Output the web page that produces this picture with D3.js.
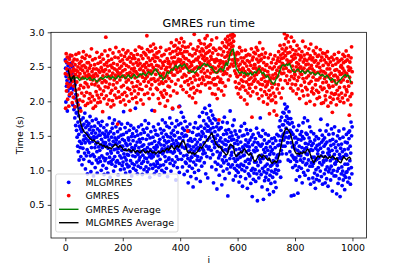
<!DOCTYPE html>
<html><head><meta charset="utf-8">
<script src="https://cdn.jsdelivr.net/npm/d3@7"></script>
<style>html,body{margin:0;padding:0;background:#fff;}svg{display:block;}</style>
</head><body><svg id="c" width="407" height="271"></svg>
<script>
// ---- DATA ----
const xTicks = [0, 200, 400, 600, 800, 1000];
const yTicks = [0.5, 1.0, 1.5, 2.0, 2.5, 3.0];
const seriesNames = ["MLGMRES", "GMRES", "GMRES Average", "MLGMRES Average"];

// MLGMRES run time per iteration i = 0..999
const mlgmres = [
2.60,2.48,1.99,2.36,2.22,2.56,2.30,1.86,2.44,2.15,2.52,2.39,2.26,2.63,2.08,2.47,2.33,2.19,2.55,2.41,
2.28,2.53,2.12,2.40,2.21,2.50,1.95,2.35,2.17,2.45,1.88,2.30,2.05,1.76,2.24,1.92,1.65,2.10,1.83,1.58,
1.84,1.48,1.98,1.35,1.70,1.27,1.79,1.52,1.15,1.64,1.42,1.90,1.33,1.60,1.20,1.73,1.39,1.56,1.08,1.65,
1.58,1.32,1.76,1.44,1.16,1.67,1.50,1.25,1.83,1.40,1.02,1.62,1.46,1.21,1.71,1.54,1.30,0.95,1.65,1.43,
1.51,1.26,1.68,1.13,1.59,1.40,1.78,1.21,1.47,0.98,1.63,1.33,1.54,1.10,1.72,1.42,1.23,1.58,0.92,1.49,
1.46,1.20,1.64,1.33,1.04,1.54,1.38,1.74,1.15,1.48,1.27,0.96,1.60,1.41,1.11,1.69,1.34,1.51,1.18,1.57,
1.29,1.51,1.13,1.65,1.37,1.00,1.45,1.21,1.71,1.33,1.54,1.07,1.41,1.18,1.62,0.94,1.36,1.52,1.14,1.48,
1.40,1.17,1.57,1.03,1.35,1.66,1.24,1.49,0.96,1.32,1.53,1.11,1.44,1.76,1.19,1.38,0.90,1.56,1.28,1.13,
1.25,1.48,1.09,1.61,1.36,1.68,1.16,1.42,0.99,1.53,1.30,1.73,1.20,1.47,1.06,1.39,1.63,1.12,1.44,1.31,
1.38,1.14,1.56,1.26,0.93,1.48,1.32,1.70,1.10,1.41,1.21,1.60,1.01,1.35,1.51,1.18,1.67,1.29,1.07,1.45,
1.35,1.12,1.52,1.85,1.24,1.02,1.43,1.19,1.62,1.30,0.96,1.39,1.15,1.55,1.09,1.36,1.23,1.68,1.05,1.47,
1.22,1.44,1.06,1.58,1.29,0.98,1.38,1.14,1.65,1.27,1.49,0.92,1.33,1.10,1.53,1.21,1.43,1.03,1.61,1.31,
1.32,1.08,1.49,1.20,1.90,1.36,1.00,1.26,1.57,1.12,1.41,0.95,1.51,1.23,1.06,1.63,1.33,1.15,1.45,1.28,
1.19,1.41,1.04,1.53,1.27,1.66,1.10,1.35,0.94,1.46,1.22,1.59,1.13,1.37,1.01,1.55,1.30,1.18,1.72,1.29,
1.28,1.05,1.45,1.17,1.61,0.98,1.33,1.12,1.51,1.25,1.68,1.02,1.38,1.20,0.90,1.47,1.30,1.08,1.56,1.23,
1.18,1.39,1.87,1.27,1.03,1.48,1.20,1.63,1.09,1.33,0.95,1.42,1.24,1.58,1.06,1.30,1.52,0.99,1.36,1.13,
1.34,1.10,1.51,1.21,1.67,1.04,1.40,1.26,0.93,1.45,1.16,1.60,1.07,1.37,1.28,1.54,1.00,1.31,1.73,1.24,
1.26,1.48,1.08,1.58,1.36,0.97,1.43,1.20,1.69,1.31,1.13,1.52,1.03,1.40,1.64,1.27,0.91,1.49,1.34,1.16,
1.42,1.18,1.62,1.33,1.76,1.10,1.48,1.27,0.99,1.54,1.37,1.68,1.15,1.44,1.89,1.25,1.58,1.07,1.39,1.51,
1.27,1.50,1.12,1.63,1.35,0.86,1.43,1.20,1.72,1.32,1.04,1.55,1.39,1.16,1.66,1.29,1.47,0.97,1.93,1.37,
1.47,1.25,1.68,1.38,1.84,1.16,1.53,1.34,1.05,1.61,1.43,1.77,1.21,1.49,0.94,1.58,1.32,1.71,1.12,1.51,
1.33,1.10,1.50,1.22,1.63,0.99,1.37,1.17,0.82,1.43,1.27,1.57,1.06,1.35,1.67,1.14,1.46,0.91,1.30,1.19,
1.19,1.42,1.03,1.55,1.25,0.76,1.34,1.12,1.62,1.28,0.97,1.45,1.22,1.69,1.08,1.37,0.88,1.31,1.51,1.15,
1.41,1.20,1.61,1.33,1.00,1.52,1.29,1.78,1.14,1.45,0.84,1.37,1.64,1.18,1.49,1.06,1.56,1.32,1.84,1.24,
1.53,1.29,1.72,1.40,1.11,1.61,1.90,1.25,1.49,0.95,1.67,1.35,1.82,1.20,1.57,1.44,0.89,1.64,1.31,1.76,
1.57,1.34,1.94,1.47,1.72,1.18,1.60,1.86,1.29,1.54,1.05,1.68,1.42,1.80,1.23,1.62,0.82,1.49,1.75,1.38,
1.33,1.56,1.12,1.46,1.73,1.01,1.40,1.63,0.73,1.27,1.51,1.09,1.68,1.36,1.18,1.59,0.93,1.43,1.22,1.61,
1.25,1.47,1.06,1.62,1.33,0.79,1.41,1.15,1.70,1.29,0.99,1.52,1.11,1.38,1.77,1.20,0.88,1.44,1.30,1.58,
1.37,1.14,1.53,1.02,1.69,1.28,0.63,1.42,1.09,1.59,1.32,0.96,1.48,1.17,1.86,1.35,1.05,1.55,1.22,1.44,
1.26,1.50,1.08,1.65,1.34,0.86,1.45,1.17,1.73,1.03,1.39,1.57,1.13,0.92,1.30,1.52,1.00,1.21,1.43,1.07,
1.16,1.38,0.97,1.48,1.24,0.83,1.31,1.05,1.57,1.19,0.91,1.41,1.09,1.64,1.27,1.01,1.50,0.77,1.34,1.21,
1.32,1.07,1.51,1.22,1.68,0.99,1.37,1.13,0.88,1.44,1.27,1.59,1.04,1.35,0.74,1.53,1.16,1.40,0.95,1.29,
1.10,1.34,0.92,1.44,1.15,1.58,0.81,1.24,1.00,1.48,1.19,0.62,1.37,1.03,1.52,0.87,1.29,0.96,1.41,1.12,
1.27,1.01,1.46,0.84,1.33,1.12,1.61,0.95,1.29,0.56,1.40,1.07,1.54,1.20,0.89,1.37,0.99,1.50,1.16,1.76,
1.12,1.35,0.94,1.49,1.22,0.76,1.38,1.03,1.58,1.17,0.58,1.30,0.98,1.44,0.85,1.26,1.06,1.53,0.90,1.33,
1.20,0.96,1.39,1.09,0.72,1.29,1.01,1.51,0.86,1.16,1.42,0.65,1.23,0.93,1.34,1.06,0.81,1.27,0.99,1.46,
1.08,1.30,0.90,1.39,1.14,0.69,1.24,0.97,1.47,1.11,0.83,1.33,1.01,1.43,0.75,1.18,0.95,1.52,1.07,1.22,
1.12,1.36,1.00,1.50,1.23,1.63,1.37,1.13,1.72,1.43,0.90,1.58,1.29,1.77,1.49,1.24,1.66,1.35,1.84,1.52,
1.66,1.44,1.83,1.54,1.96,1.35,1.72,1.48,1.89,1.61,1.24,1.78,1.55,1.92,1.40,1.69,1.15,1.75,1.47,1.85,
1.49,1.67,1.27,1.58,1.13,1.75,1.40,0.63,1.55,1.22,1.69,1.34,1.04,1.52,1.19,1.63,0.64,1.36,1.16,1.47,
1.31,1.07,1.48,1.18,0.86,1.40,1.13,1.58,1.00,1.29,0.67,1.45,1.22,1.65,1.05,1.35,0.91,1.26,1.52,1.15,
1.21,1.44,1.03,1.56,1.33,0.82,1.49,1.12,1.69,1.27,0.97,1.46,1.17,1.76,1.31,0.93,1.39,1.08,1.54,1.24,
1.33,1.10,1.52,1.23,1.72,1.00,1.38,1.15,0.88,1.47,1.28,1.63,1.06,1.42,0.80,1.30,1.56,1.11,1.36,1.19,
1.06,1.29,0.89,1.39,1.10,1.53,0.83,1.19,0.96,1.44,1.14,0.74,1.32,1.01,1.49,0.87,1.16,1.36,0.93,1.24,
1.29,1.04,1.46,1.18,0.85,1.38,1.11,1.58,0.99,1.32,1.74,1.21,0.91,1.41,1.08,1.51,0.80,1.26,1.44,1.14,
1.12,1.35,0.95,1.47,1.20,0.82,1.38,1.01,1.57,1.15,0.88,1.41,1.05,1.66,1.25,0.77,1.31,0.98,1.52,1.22,
1.27,1.02,1.43,1.14,0.86,1.36,1.06,1.60,0.96,1.29,0.70,1.45,1.17,1.53,1.00,1.38,0.92,1.23,1.63,1.10,
1.09,1.33,0.92,1.42,1.13,0.66,1.28,0.99,1.50,1.17,0.81,1.37,1.03,1.57,0.88,1.23,1.46,0.62,1.19,1.32,
1.17,0.95,1.38,1.05,0.78,1.27,0.99,1.48,0.86,1.20,1.60,0.93,1.30,0.72,1.09,1.41,0.90,1.23,0.97,1.52,
1.22,0.98,1.40,1.09,0.83,1.31,1.55,1.02,1.46,0.89,1.57,1.14,1.35,0.80,1.25,1.70,1.04,1.50,0.95,1.63
];

// GMRES run time per iteration i = 0..999
const gmres = [
2.40,1.90,2.58,2.69,2.15,2.47,2.26,2.64,2.03,2.38,2.21,2.55,1.93,2.33,2.61,2.10,2.45,2.67,2.24,2.42,
2.52,2.12,2.37,2.66,1.98,2.29,2.57,2.43,2.06,2.47,2.22,2.61,2.34,1.92,2.53,2.39,2.16,2.68,2.45,2.01,
2.28,2.60,2.09,2.43,2.50,1.95,2.36,2.70,2.18,2.55,2.02,2.40,2.47,2.23,1.86,2.58,2.33,2.12,2.51,2.64,
2.45,2.00,2.35,2.72,2.20,2.52,2.08,2.41,2.62,2.27,1.94,2.49,2.37,2.67,2.13,2.25,2.56,2.44,1.97,2.36,
2.21,2.56,2.39,2.04,2.48,2.65,2.11,2.32,2.52,1.99,2.36,2.76,2.25,2.43,2.07,2.60,2.31,1.90,2.47,2.38,
2.35,2.02,2.53,2.24,2.62,1.93,2.40,2.14,2.47,2.28,2.71,2.09,2.37,1.98,2.55,2.22,2.45,2.05,2.31,2.64,
2.42,2.18,1.99,2.57,2.33,2.49,2.10,2.68,2.27,2.45,1.85,2.37,2.61,2.15,2.43,2.04,2.53,2.30,2.73,2.21,
2.46,2.93,2.28,2.08,2.56,2.39,1.96,2.51,2.66,2.20,2.36,2.59,2.02,2.44,2.25,2.75,2.33,2.12,2.52,1.92,
2.37,2.61,2.16,2.49,2.01,2.41,2.70,2.24,2.55,1.95,2.31,2.47,2.09,2.64,2.38,2.19,2.78,2.35,2.05,2.45,
2.27,2.53,1.67,2.42,2.63,2.14,2.38,2.72,2.06,2.48,2.31,2.58,1.99,2.41,2.67,2.21,2.51,2.36,2.10,2.60,
2.44,2.75,2.23,2.02,2.55,2.37,2.65,2.13,2.46,1.95,2.34,2.70,2.28,2.52,2.08,2.40,2.61,2.19,2.73,2.39,
2.31,2.50,2.00,2.64,2.17,2.42,1.87,2.57,2.36,2.69,2.11,2.47,2.27,2.62,2.04,2.39,2.54,2.21,2.66,2.44,
2.48,2.15,2.62,2.34,2.74,2.06,2.43,2.56,2.22,1.98,2.40,2.68,2.29,2.52,2.11,2.60,2.37,2.79,2.18,2.46,
2.55,2.25,2.47,2.02,2.66,2.38,2.77,2.17,2.51,2.35,2.62,1.96,2.44,2.71,2.29,2.53,2.10,2.41,2.69,2.33,
2.49,2.67,2.22,2.56,2.95,2.36,2.75,2.12,2.45,2.63,2.28,2.52,2.04,2.72,2.40,2.59,2.18,2.80,2.44,2.32,
2.53,2.24,2.73,2.42,2.62,2.10,2.49,2.83,2.33,2.67,2.46,1.86,2.58,2.29,2.77,2.39,2.64,2.19,2.52,2.70,
2.45,2.17,2.63,2.31,2.04,2.51,2.72,2.25,2.41,1.97,2.59,2.35,2.78,2.13,2.48,2.28,2.66,2.09,2.39,2.56,
2.26,2.52,2.06,2.41,2.68,2.16,2.35,2.58,1.93,2.46,2.29,2.74,2.11,2.49,2.37,2.62,2.01,2.43,2.22,2.55,
2.58,2.33,2.76,2.21,2.50,2.69,2.08,2.54,2.42,2.85,2.29,2.63,2.46,1.90,2.72,2.38,2.57,2.15,2.80,2.48,
2.64,2.38,2.81,2.53,2.25,2.73,2.46,2.89,2.57,2.12,2.68,2.42,2.77,2.31,2.61,1.92,2.49,2.85,2.58,2.70,
2.44,2.75,2.60,2.22,2.91,2.54,2.69,2.35,2.80,2.48,2.17,2.65,2.56,2.86,2.39,2.72,2.28,2.62,2.78,2.50,
2.37,2.62,2.13,2.53,2.72,2.30,1.57,2.48,2.79,2.24,2.59,2.42,2.08,2.68,2.50,2.33,2.83,2.18,2.56,2.44,
2.52,2.27,2.66,2.05,2.45,2.76,2.20,2.58,2.36,2.97,2.12,2.48,2.69,2.31,1.98,2.61,2.40,2.74,2.16,2.50,
2.60,2.38,2.79,2.23,2.64,2.48,2.88,2.32,2.56,2.72,2.14,2.52,2.84,2.43,2.67,2.26,2.76,2.54,2.35,2.62,
2.47,2.73,2.31,2.65,2.83,2.41,2.59,2.91,2.24,2.69,2.52,2.78,2.36,2.62,2.95,2.44,2.71,2.56,2.27,2.80,
2.58,2.35,2.73,2.19,2.53,2.82,2.41,2.65,2.27,2.61,2.89,2.46,2.11,2.70,2.50,2.32,2.77,2.43,2.60,2.24,
2.33,2.57,2.10,2.48,2.74,2.24,2.61,2.92,2.42,2.04,2.59,2.35,2.68,2.18,2.51,1.73,2.45,2.77,2.28,2.55,
2.59,2.32,2.76,2.44,2.15,2.67,2.49,2.85,2.27,2.57,2.39,2.72,2.09,2.53,2.80,2.43,2.64,2.22,2.90,2.54,
2.57,2.78,2.40,2.86,2.66,2.47,2.94,2.71,2.31,2.82,2.61,2.89,2.50,2.75,2.37,2.96,2.68,2.84,2.54,2.79,
2.73,2.92,2.60,2.97,2.80,2.51,2.87,2.69,2.95,2.56,2.44,2.62,2.28,2.67,2.40,2.55,2.20,2.60,2.36,2.71,
2.36,2.60,2.11,2.51,2.69,2.26,2.46,2.78,2.18,2.54,2.39,2.06,2.63,2.31,2.73,2.44,2.22,2.58,2.48,2.29,
2.47,2.21,2.63,2.36,2.02,2.55,2.43,2.74,2.16,2.40,2.66,2.28,2.51,1.96,2.59,2.38,2.12,2.68,2.46,2.24,
2.32,2.57,2.19,2.67,2.43,2.08,2.52,2.34,2.76,2.25,1.77,2.60,2.41,2.14,2.64,2.48,2.29,2.71,2.37,2.53,
2.53,2.32,2.69,2.20,2.48,2.78,2.39,2.61,2.11,2.45,2.74,2.28,2.57,2.42,2.04,2.66,2.50,2.85,2.25,2.59,
2.44,2.17,2.61,2.32,2.68,2.08,2.47,2.24,2.76,2.39,1.99,2.56,2.35,2.64,2.14,2.45,2.29,2.70,2.21,2.52,
2.37,2.10,2.53,2.24,1.96,2.43,2.28,2.63,2.05,2.38,2.16,1.82,2.49,2.31,2.68,2.09,2.34,2.01,2.56,2.26,
2.20,2.47,2.02,2.38,2.61,2.12,2.33,1.86,2.50,2.25,2.66,2.07,2.40,1.98,2.55,2.35,1.80,2.45,2.18,2.59,
2.37,2.63,2.24,2.72,2.49,2.12,2.58,2.43,2.81,2.31,2.67,2.51,2.05,2.62,2.40,2.76,2.55,2.19,2.69,2.47,
2.63,2.41,2.82,2.98,2.52,2.73,2.30,2.66,2.91,2.48,2.77,2.37,2.60,2.95,2.26,2.70,2.55,2.86,2.44,2.58,
2.55,2.31,2.71,2.43,2.79,2.19,2.58,2.93,2.36,2.65,2.25,2.51,2.75,2.15,2.61,2.45,2.87,2.33,2.68,2.40,
2.38,2.63,2.24,2.73,2.50,2.11,2.56,2.81,2.30,2.45,2.68,2.18,2.54,2.35,2.76,2.48,2.04,2.60,2.41,2.66,
2.50,2.23,2.64,2.39,2.72,2.15,2.46,2.87,2.33,2.57,2.08,2.48,2.67,2.28,2.61,2.42,2.79,2.20,2.53,1.97,
2.34,2.59,2.17,2.69,2.45,2.09,2.54,2.37,2.76,2.26,2.62,2.48,2.00,2.66,2.41,2.83,2.29,2.52,2.14,2.60,
2.47,2.19,2.63,2.35,2.73,2.11,2.44,2.57,1.95,2.40,2.69,2.24,2.59,2.31,2.78,2.16,2.51,2.04,2.65,2.42,
2.31,2.55,2.13,2.67,2.42,2.06,2.49,2.34,2.75,2.21,2.59,2.44,1.97,2.64,2.38,2.17,2.70,2.27,2.52,1.98,
2.43,2.19,2.60,2.33,2.69,2.08,2.41,2.02,2.56,2.28,2.65,2.14,2.47,2.72,2.36,1.93,2.53,2.23,2.62,2.38,
2.20,2.47,2.06,2.57,2.33,1.98,2.41,2.12,2.64,2.29,1.84,2.52,2.22,2.03,2.60,2.37,2.10,2.68,2.30,2.45,
2.38,2.11,2.54,2.25,1.95,2.46,2.62,2.16,2.35,2.04,2.57,2.31,2.71,2.09,2.43,2.20,2.59,2.00,2.39,2.50,
2.28,2.52,2.12,2.61,2.40,2.05,2.48,2.68,2.31,2.56,1.98,2.44,2.21,2.65,2.36,2.09,2.58,2.41,2.73,2.17,
2.40,2.14,2.60,2.29,2.02,2.50,2.66,2.22,2.45,1.80,2.35,2.57,2.07,2.48,1.95,2.63,2.27,2.79,2.11,2.43
];

// running averages, sampled at i = 10, 15, ..., 995
const avgStart = 10, avgStep = 5;
const gmresAvg = [
2.34,2.36,2.33,2.35,2.32,2.34,2.35,2.33,2.30,2.33,2.35,2.32,2.34,2.31,2.33,2.35,2.32,2.30,2.33,2.31,
2.28,2.30,2.33,2.35,2.32,2.34,2.36,2.34,2.37,2.35,2.33,2.36,2.34,2.32,2.35,2.37,2.34,2.36,2.38,2.35,
2.33,2.36,2.38,2.35,2.33,2.36,2.39,2.36,2.34,2.37,2.40,2.38,2.41,2.39,2.37,2.40,2.43,2.41,2.38,2.42,
2.45,2.47,2.43,2.40,2.36,2.38,2.31,2.34,2.37,2.43,2.40,2.44,2.47,2.45,2.49,2.52,2.48,2.51,2.53,2.50,
2.52,2.54,2.50,2.47,2.43,2.45,2.42,2.44,2.41,2.43,2.46,2.50,2.48,2.51,2.53,2.55,2.52,2.54,2.51,2.49,
2.50,2.46,2.43,2.41,2.42,2.45,2.48,2.46,2.44,2.50,2.56,2.52,2.62,2.70,2.74,2.76,2.62,2.48,2.45,2.41,
2.41,2.43,2.40,2.42,2.38,2.41,2.39,2.42,2.38,2.40,2.43,2.41,2.45,2.48,2.44,2.40,2.42,2.38,2.35,2.37,
2.33,2.30,2.27,2.25,2.28,2.33,2.36,2.42,2.48,2.52,2.53,2.51,2.54,2.52,2.55,2.50,2.45,2.43,2.42,2.45,
2.47,2.44,2.42,2.45,2.43,2.40,2.43,2.45,2.42,2.40,2.42,2.41,2.38,2.40,2.42,2.39,2.37,2.39,2.37,2.35,
2.38,2.36,2.32,2.30,2.33,2.31,2.27,2.25,2.28,2.30,2.32,2.35,2.37,2.39,2.36,2.38,2.33,2.27
];
const mlgmresAvg = [
2.46,2.36,2.29,2.35,2.37,2.22,2.05,1.86,1.74,1.66,1.60,1.56,1.54,1.52,1.49,1.46,1.45,1.43,1.44,1.41,
1.39,1.40,1.37,1.38,1.35,1.36,1.33,1.35,1.32,1.33,1.31,1.34,1.36,1.38,1.35,1.33,1.36,1.34,1.31,1.29,
1.30,1.28,1.31,1.29,1.27,1.30,1.28,1.26,1.29,1.27,1.25,1.28,1.30,1.27,1.25,1.28,1.26,1.29,1.27,1.25,
1.27,1.24,1.26,1.28,1.25,1.27,1.29,1.27,1.30,1.32,1.29,1.33,1.36,1.33,1.30,1.34,1.36,1.33,1.37,1.41,
1.43,1.40,1.34,1.27,1.25,1.27,1.24,1.26,1.23,1.25,1.27,1.30,1.34,1.32,1.36,1.39,1.42,1.45,1.48,1.51,
1.54,1.49,1.43,1.38,1.36,1.33,1.35,1.30,1.27,1.25,1.22,1.24,1.33,1.38,1.36,1.35,1.24,1.20,1.22,1.24,
1.27,1.25,1.29,1.31,1.27,1.24,1.22,1.25,1.21,1.16,1.13,1.15,1.19,1.23,1.21,1.18,1.22,1.20,1.17,1.15,
1.18,1.13,1.10,1.12,1.14,1.11,1.15,1.23,1.33,1.43,1.52,1.58,1.61,1.59,1.56,1.52,1.44,1.34,1.27,1.24,
1.25,1.23,1.26,1.24,1.27,1.25,1.29,1.31,1.27,1.21,1.15,1.11,1.14,1.18,1.21,1.19,1.22,1.20,1.18,1.21,
1.19,1.17,1.20,1.18,1.21,1.19,1.16,1.18,1.14,1.12,1.11,1.16,1.20,1.17,1.15,1.18,1.19,1.16
];

// ---- CHART ----
const W = 407, H = 271;
const m = {left: 51, right: 366.5, top: 32.3, bottom: 238};
const svg = d3.select("#c");
const FONT = "DejaVu Sans, sans-serif";
const DOT_R = 1.9;

const x = d3.scaleLinear().domain([-49.95, 1048.95]).range([m.left, m.right]);
const y = d3.scaleLinear().domain([0.02, 3.0]).range([m.bottom, m.top]);

svg.append("defs").append("clipPath").attr("id", "clip")
  .append("rect").attr("x", m.left).attr("y", m.top)
  .attr("width", m.right - m.left).attr("height", m.bottom - m.top);

const plot = svg.append("g").attr("clip-path", "url(#clip)");

plot.append("g").selectAll("circle").data(mlgmres).join("circle")
  .attr("cx", (d, i) => x(i)).attr("cy", d => y(d)).attr("r", DOT_R).attr("fill", "#0000ff");
plot.append("g").selectAll("circle").data(gmres).join("circle")
  .attr("cx", (d, i) => x(i)).attr("cy", d => y(d)).attr("r", DOT_R).attr("fill", "#ff0000");

const line = d3.line().x((d, i) => x(avgStart + i * avgStep)).y(d => y(d));
plot.append("path").datum(gmresAvg).attr("d", line)
  .attr("fill", "none").attr("stroke", "#008000").attr("stroke-width", 1.4).attr("stroke-linejoin", "round");
plot.append("path").datum(mlgmresAvg).attr("d", line)
  .attr("fill", "none").attr("stroke", "#000000").attr("stroke-width", 1.4).attr("stroke-linejoin", "round");

// axes
const xAxis = svg.append("g").attr("transform", `translate(0,${m.bottom})`)
  .call(d3.axisBottom(x).tickValues(xTicks).tickFormat(d3.format("d")).tickSize(3.3).tickPadding(3.3).tickSizeOuter(0));
const yAxis = svg.append("g").attr("transform", `translate(${m.left},0)`)
  .call(d3.axisLeft(y).tickValues(yTicks).tickFormat(d3.format(".1f")).tickSize(3.3).tickPadding(3.3).tickSizeOuter(0));
[xAxis, yAxis].forEach(a => {
  a.select(".domain").remove();
  a.selectAll("text").attr("font-family", FONT).attr("font-size", 9.4).attr("fill", "#000");
  a.selectAll("line").attr("stroke", "#000").attr("stroke-width", 0.75);
});

svg.append("rect").attr("x", m.left).attr("y", m.top)
  .attr("width", m.right - m.left).attr("height", m.bottom - m.top)
  .attr("fill", "none").attr("stroke", "#000").attr("stroke-width", 0.75);

// titles
svg.append("text").attr("x", (m.left + m.right) / 2).attr("y", 26.5).attr("text-anchor", "middle")
  .attr("font-family", FONT).attr("font-size", 11.3).attr("fill", "#000").text("GMRES run time");
svg.append("text").attr("x", (m.left + m.right) / 2).attr("y", 263).attr("text-anchor", "middle")
  .attr("font-family", FONT).attr("font-size", 9.4).attr("fill", "#000").text("i");
svg.append("text").attr("transform", `translate(23,${(m.top + m.bottom) / 2}) rotate(-90)`)
  .attr("text-anchor", "middle").attr("font-family", FONT).attr("font-size", 9.4).attr("fill", "#000").text("Time (s)");

// legend
const lg = svg.append("g");
lg.append("rect").attr("x", 55.7).attr("y", 174).attr("width", 122.3).attr("height", 58)
  .attr("rx", 2).attr("fill", "#fff").attr("fill-opacity", 0.8).attr("stroke", "#cccccc").attr("stroke-width", 0.75);
const rowsY = [182.3, 195.6, 209.3, 222.7];
const kinds = [{t: "dot", c: "#0000ff"}, {t: "dot", c: "#ff0000"}, {t: "line", c: "#008000"}, {t: "line", c: "#000000"}];
seriesNames.forEach((name, k) => {
  const yy = rowsY[k];
  if (kinds[k].t === "dot") {
    lg.append("circle").attr("cx", 68.7).attr("cy", yy).attr("r", DOT_R).attr("fill", kinds[k].c);
  } else {
    lg.append("line").attr("x1", 59).attr("x2", 78.5).attr("y1", yy).attr("y2", yy)
      .attr("stroke", kinds[k].c).attr("stroke-width", 1.4);
  }
  lg.append("text").attr("x", 85.5).attr("y", yy + 3.4).attr("font-family", FONT).attr("font-size", 9.4)
    .attr("fill", "#000").text(name);
});
</script></body></html>
